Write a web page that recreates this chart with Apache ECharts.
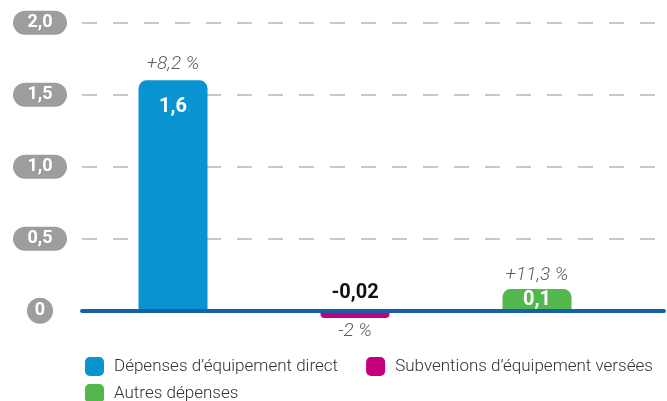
<!DOCTYPE html>
<html>
<head>
<meta charset="utf-8">
<script src="https://cdn.jsdelivr.net/npm/echarts@6/dist/echarts.min.js"></script>
<style>
  html, body { margin: 0; padding: 0; background: #fff; }
  #chart { width: 667px; height: 401px; }
</style>
</head>
<body>
<div id="chart"></div>
<script>
// données
const categories = ["Dépenses d’équipement direct", "Subventions d’équipement versées", "Autres dépenses"];
const values = [1.6, -0.05, 0.15]; // hauteur des barres
const valueLabels = ["1,6", "-0,02", "0,1"];
const changeLabels = ["+8,2 %", "-2 %", "+11,3 %"];
const yTickLabels = ["0", "0,5", "1,0", "1,5", "2,0"];
const colors = ["#0993d0", "#c5007c", "#52b74c"];

const font = "Roboto, 'DejaVu Sans', sans-serif";

// une série par catégorie pour la légende
const barSeries = categories.map(function (name, i) {
  const data = categories.map(function () { return "-"; });
  const neg = values[i] < 0;
  data[i] = {
    value: values[i],
    label: {
      show: true,
      position: neg ? "top" : "insideTop",
      distance: neg ? 8 : (i === 0 ? 17 : 1),
      formatter: valueLabels[i],
      color: neg ? "#111" : "#fff",
      fontWeight: "bold",
      fontSize: 20,
      fontFamily: font,
    },
    itemStyle: { borderRadius: neg ? [0, 0, 4, 4] : [8, 8, 0, 0] },
  };
  return {
    name: name,
    type: "bar",
    xAxisIndex: 1,
    yAxisIndex: 1,
    barWidth: 69,
    barGap: "-100%",
    itemStyle: { color: colors[i] },
    data: data,
  };
});

// étiquettes d'évolution (en %)
const changeSeries = {
  name: "evolution",
  type: "scatter",
  xAxisIndex: 1,
  yAxisIndex: 1,
  symbolSize: 0,
  silent: true,
  data: values.map(function (v, i) {
    return {
      value: v,
      label: {
        show: true,
        position: v < 0 ? "bottom" : "top",
        distance: v < 0 ? 4 : (i === 0 ? 7 : 4),
        formatter: changeLabels[i],
      },
    };
  }),
  label: {
    color: "#333",
    fontStyle: "italic",
    fontWeight: 300,
    fontSize: 19,
    fontFamily: font,
  },
};

const option = {
  animation: false,
  backgroundColor: "#fff",
  grid: [
    // grille : axe y, pointillés, ligne du zéro
    { left: 82, right: 3, top: 22.7, bottom: 90.3 },
    // grille des barres
    { left: 82, right: 39, top: 22.7, bottom: 18.3 },
  ],
  xAxis: [
    {
      gridIndex: 0,
      type: "value",
      z: 10,
      axisLine: { show: true, onZero: false, lineStyle: { color: "#1560a8", width: 4 } },
      axisTick: { show: false },
      axisLabel: { show: false },
      splitLine: { show: false },
    },
    {
      gridIndex: 1,
      type: "category",
      data: categories,
      show: false,
    },
  ],
  yAxis: [
    {
      gridIndex: 0,
      type: "value",
      min: 0,
      max: 2,
      interval: 0.5,
      axisLine: { show: false },
      axisTick: { show: false },
      axisLabel: {
        align: "center",
        margin: 42,
        formatter: function (v, idx) {
          return idx === 0 ? "{c|" + yTickLabels[idx] + "}" : "{p|" + yTickLabels[idx] + "}";
        },
        rich: {
          p: {
            backgroundColor: "#9d9d9d",
            borderRadius: 13,
            color: "#fff",
            fontWeight: "bold",
            fontSize: 18,
            fontFamily: font,
            width: 28,
            align: "center",
            lineHeight: 19,
            padding: [3, 13, 3, 13],
          },
          c: {
            backgroundColor: "#9d9d9d",
            borderRadius: 13,
            color: "#fff",
            fontWeight: "bold",
            fontSize: 18,
            fontFamily: font,
            width: 26,
            height: 26,
            lineHeight: 26,
            align: "center",
          },
        },
      },
      splitLine: {
        show: true,
        lineStyle: { color: "#c8c8c8", width: 2, type: [15, 16] },
      },
    },
    {
      gridIndex: 1,
      type: "value",
      min: -0.5,
      max: 2,
      show: false,
      splitLine: { show: false },
    },
  ],
  legend: {
    data: categories,
    left: 80,
    top: 352,
    width: 590,
    icon: "roundRect",
    itemWidth: 19,
    itemHeight: 19,
    itemGap: 8,
    formatter: function (name) {
      return "{t|" + name + "}{g| }";
    },
    textStyle: {
      color: "#333",
      fontSize: 17,
      fontWeight: 300,
      fontFamily: font,
      padding: [0, 0, 0, 5],
      rich: {
        t: { fontSize: 17, fontWeight: 300, fontFamily: font, color: "#333" },
        g: { fontSize: 17, padding: [0, 16, 0, 16] },
      },
    },
  },
  series: barSeries.concat([changeSeries]),
};

const myChart = echarts.init(document.getElementById("chart"));
myChart.setOption(option);
</script>
</body>
</html>
